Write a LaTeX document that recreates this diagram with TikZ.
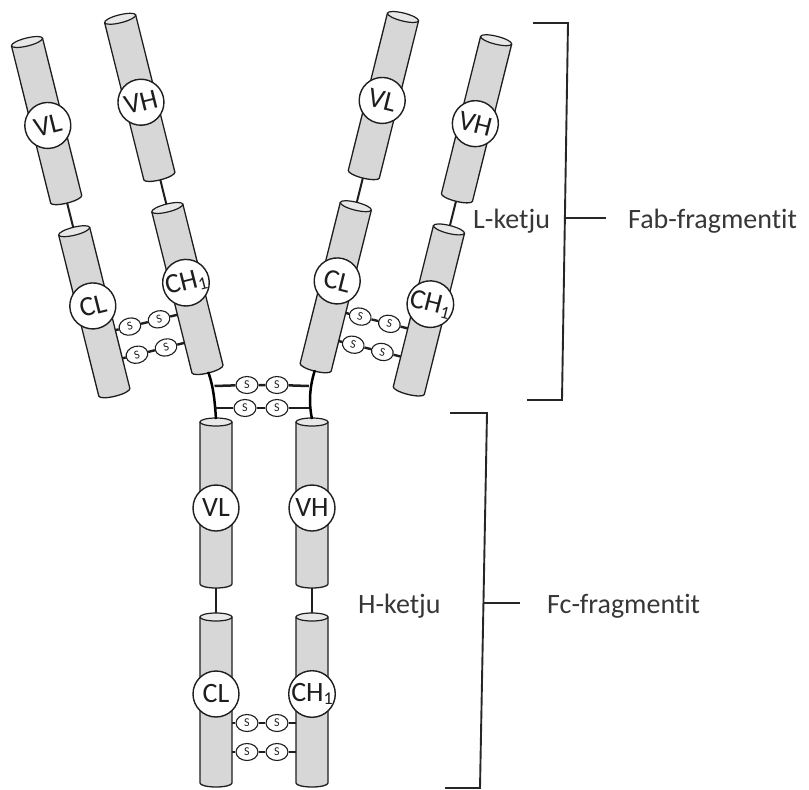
\documentclass[tikz,border=0pt]{standalone}
\usepackage{fontspec}
\setmainfont{Carlito}[Ligatures=NoCommon]
\usetikzlibrary{shapes.geometric}
\definecolor{cylgray}{RGB}{215,215,215}
\definecolor{capgray}{RGB}{232,232,232}
\definecolor{ink}{RGB}{30,30,30}
\definecolor{txt}{RGB}{55,55,55}
\tikzset{
 cylfill/.style={fill=cylgray},
 cyledge/.style={draw=ink, line width=1.3pt},
 capstyle/.style={fill=capgray, draw=ink, line width=1.2pt},
 dom/.style={circle, draw=ink, fill=white, line width=1.4pt, minimum size=46pt, inner sep=0pt, font=\fontsize{28}{28}\selectfont, text=ink},
 snode/.style={ellipse, draw=ink, fill=white, line width=1.1pt, minimum width=22pt, minimum height=17pt, inner sep=0pt, font=\fontsize{12}{12}\selectfont, text=ink},
 linker/.style={draw=ink, line width=2pt},
 bond/.style={draw=ink, line width=2.4pt},
 hinge/.style={draw=black, line width=2.5pt},
 brk/.style={draw=black!85, line width=1.9pt},
 lbl/.style={font=\fontsize{28}{30}\selectfont, text=txt, inner sep=0pt, anchor=base west},
}
\newcommand\chone{CH\raisebox{-0.12em}{\fontsize{18}{18}\selectfont 1}}
\newcommand\cylbody[3]{%
 \begin{scope}[shift={(#1pt,-#2pt)}]
  \fill[cylfill] (-16pt,0pt) -- (-16pt,-#3pt) arc[start angle=180,end angle=360,x radius=16pt,y radius=4pt] -- (16pt,0pt) -- cycle;
  \draw[cyledge] (-16pt,0pt) -- (-16pt,-#3pt) arc[start angle=180,end angle=360,x radius=16pt,y radius=4pt] -- (16pt,0pt);
  \draw[capstyle] (0pt,0pt) ellipse[x radius=16pt, y radius=4pt];
 \end{scope}}
\newcommand\abunit[3]{%
 \begin{scope}[shift={#2}, rotate=#3]
  \coordinate (#1-Lcap) at (0pt,3pt);
  \coordinate (#1-Rcap) at (96pt,3pt);
  \coordinate (#1-Lub) at (0pt,-166pt);
  \coordinate (#1-Llt) at (0pt,-195pt);
  \coordinate (#1-Rub) at (96pt,-166pt);
  \coordinate (#1-Rlt) at (96pt,-195pt);
  \coordinate (#1-Llb) at (0pt,-364pt);
  \coordinate (#1-Rlb) at (96pt,-364pt);
  \draw[linker] (#1-Lub) -- (#1-Llt);
  \draw[linker] (#1-Rub) -- (#1-Rlt);
  \coordinate (#1-b1l) at (16pt,-301pt);
  \coordinate (#1-b1r) at (80pt,-301pt);
  \coordinate (#1-b2l) at (16pt,-330pt);
  \coordinate (#1-b2r) at (80pt,-330pt);
  \node[snode, rotate=#3] (#1-s11) at (31pt,-301pt) {S};
  \node[snode, rotate=#3] (#1-s12) at (61pt,-301pt) {S};
  \node[snode, rotate=#3] (#1-s21) at (31pt,-330pt) {S};
  \node[snode, rotate=#3] (#1-s22) at (61pt,-330pt) {S};
  \draw[bond] (#1-b1l) -- (#1-s11) -- (#1-s12) -- (#1-b1r);
  \draw[bond] (#1-b2l) -- (#1-s21) -- (#1-s22) -- (#1-b2r);
  \cylbody{0}{0}{162}
  \cylbody{96}{0}{162}
  \cylbody{0}{195}{166}
  \cylbody{96}{195}{166}
  \node[dom, rotate=#3] (#1-VL) at (0pt,-86pt) {VL};
  \node[dom, rotate=#3] (#1-VH) at (96pt,-86pt) {VH};
  \node[dom, rotate=#3] (#1-CL) at (0pt,-272pt) {CL};
  \node[dom, rotate=#3] (#1-CH) at (96pt,-272pt) {\chone};
 \end{scope}}
\begin{document}
\begin{tikzpicture}[x=1pt,y=-1pt]
\useasboundingbox (0,0) rectangle (809,790);
\abunit{A}{(27,42)}{14}
\abunit{B}{(403,17)}{-14}
\abunit{C}{(216,422)}{0}
% hinge region
\draw[hinge] (A-Rlb) .. controls (214,388) and (215,405) .. (C-Lcap);
\draw[hinge] (B-Llb) .. controls (309,388) and (309,405) .. (C-Rcap);
\coordinate (hl1) at (214.5,386);
\coordinate (hr1) at (308.8,386);
\coordinate (hl2) at (214.8,408);
\coordinate (hr2) at (309.2,408);
\node[snode] (h11) at (247,385) {S};
\node[snode] (h12) at (277,385) {S};
\node[snode] (h21) at (245,408) {S};
\node[snode] (h22) at (277,408) {S};
\draw[bond, line width=2.5pt] (hl1) -- (h11) -- (h12) -- (hr1);
\draw[bond, line width=2.5pt] (hl2) -- (h21) -- (h22) -- (hr2);
% brackets
\draw[brk] (533,23) -- (568,23) -- (562,400) -- (527,400);
\draw[brk] (565,218) -- (606,218);
\draw[brk] (450,413) -- (487,413) -- (480,788) -- (445,788);
\draw[brk] (483.3,603) -- (520,603);
% labels
\node[lbl] (lket) at (473,228.5) {L-ketju};
\node[lbl] (fab) at (628,228.5) {Fab-fragmentit};
\node[lbl] (hket) at (358,613) {H-ketju};
\node[lbl] (fc) at (547,613) {Fc-fragmentit};
\end{tikzpicture}
\end{document}
